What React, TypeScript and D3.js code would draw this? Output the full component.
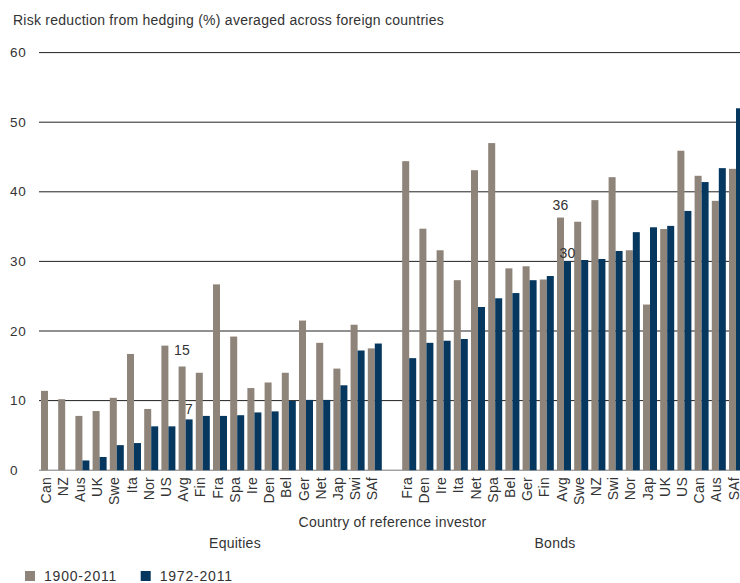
import React from "react";
import * as d3 from "d3";

const equityCountries = ["Can","NZ","Aus","UK","Swe","Ita","Nor","US","Avg","Fin","Fra","Spa","Ire","Den","Bel","Ger","Net","Jap","Swi","SAf"];
const equity1900 = [11.4,10.2,7.8,8.5,10.4,16.7,8.8,17.9,14.9,14.0,26.7,19.2,11.8,12.6,14.0,21.5,18.3,14.6,20.9,17.5];
const equity1972 = [null,null,1.4,1.9,3.6,3.9,6.3,6.3,7.3,7.8,7.8,7.9,8.3,8.45,9.95,10.1,10.1,12.2,17.2,18.2];

const bondCountries = ["Fra","Den","Ire","Ita","Net","Spa","Bel","Ger","Fin","Avg","Swe","NZ","Swi","Nor","Jap","UK","US","Can","Aus","SAf"];
const bond1900 = [44.4,34.7,31.6,27.3,43.1,47.0,29.0,29.3,27.4,36.3,35.7,38.8,42.1,31.6,23.8,34.65,45.9,42.3,38.7,43.3];
const bond1972 = [16.1,18.3,18.6,18.85,23.45,24.7,25.45,27.3,27.9,30.05,30.2,30.35,31.5,34.2,34.9,35.1,37.25,41.4,43.4,52.0];

const yTicks = [0,10,20,30,40,50,60];
const seriesNames = ["1900-2011","1972-2011"];
const groupNames = ["Equities","Bonds"];
const annotations = [
  { group: 0, index: 8, series: 0, text: "15" },
  { group: 0, index: 8, series: 1, text: "7" },
  { group: 1, index: 9, series: 0, text: "36" },
  { group: 1, index: 9, series: 1, text: "30" },
];

const W = 740, H = 583;
const GRAY = "#8e847a";
const NAVY = "#05375f";
const TEXT = "#333333";
const FONT = "'Liberation Sans', Arial, sans-serif";
const LS = 0.25;

export default function App() {
  const slots = equityCountries.length + 1 + bondCountries.length;
  const x = d3.scaleBand<number>().domain(d3.range(slots)).range([38, 38 + slots * 17.2]).padding(0);
  const y = d3.scaleLinear().domain([0, 60]).range([470.2, 52.6]);
  const bw = 7;

  type Row = { label: string; v1: number | null; v2: number | null; slot: number };
  const rows: Row[] = [];
  equityCountries.forEach((c, i) => rows.push({ label: c, v1: equity1900[i], v2: equity1972[i], slot: i }));
  bondCountries.forEach((c, i) => rows.push({ label: c, v1: bond1900[i], v2: bond1972[i], slot: equityCountries.length + 1 + i }));

  const slotOf = (g: number, i: number) => (g === 0 ? i : equityCountries.length + 1 + i);
  const annOffsets = [-11, -5, -8, -3];

  return (
    <svg width={W} height={H} style={{ position: "absolute", left: 0, top: 0, fontFamily: FONT, letterSpacing: LS }}>
      <text x={13} y={24.5} fontSize={14} fill={TEXT}>Risk reduction from hedging (%) averaged across foreign countries</text>
      {yTicks.map(t => (
        <g key={t}>
          <line x1={39} x2={W} y1={y(t)} y2={y(t)} stroke={t === 0 ? "#777" : "#222"} strokeWidth={1} />
          <text x={10} y={y(t) + 4.5} fontSize={13.5} fill={TEXT} letterSpacing={0.8}>{t}</text>
        </g>
      ))}
      {rows.map(r => {
        const x0 = x(r.slot)! + 3;
        return (
          <g key={r.slot}>
            {r.v1 != null && <rect x={x0} y={y(r.v1)} width={bw} height={y(0) - y(r.v1)} fill={GRAY} />}
            {r.v2 != null && <rect x={x0 + bw} y={y(r.v2)} width={bw} height={y(0) - y(r.v2)} fill={NAVY} />}
            <text transform={`translate(${x0 + 9.5},${477}) rotate(-90)`} textAnchor="end" fontSize={14} fill={TEXT}>{r.label}</text>
          </g>
        );
      })}
      {annotations.map((a, k) => {
        const slot = slotOf(a.group, a.index);
        const v = a.group === 0 ? (a.series === 0 ? equity1900 : equity1972)[a.index]! : (a.series === 0 ? bond1900 : bond1972)[a.index];
        const cx = x(slot)! + 3 + a.series * bw + bw / 2;
        return <text key={k} x={cx} y={y(v) + annOffsets[k]} textAnchor="middle" fontSize={14} fill={TEXT}>{a.text}</text>;
      })}
      <text x={392.5} y={527} textAnchor="middle" fontSize={14} fill={TEXT}>Country of reference investor</text>
      <text x={235} y={548} textAnchor="middle" fontSize={14} fill={TEXT}>{groupNames[0]}</text>
      <text x={555} y={548} textAnchor="middle" fontSize={14} fill={TEXT}>{groupNames[1]}</text>
      {seriesNames.map((s, i) => (
        <g key={s} transform={`translate(${25 + i * 115.7},0)`}>
          <rect x={0} y={571} width={10} height={10} fill={i === 0 ? GRAY : NAVY} />
          <text x={19} y={580.5} fontSize={14} fill={TEXT} letterSpacing={0.8}>{s}</text>
        </g>
      ))}
    </svg>
  );
}
